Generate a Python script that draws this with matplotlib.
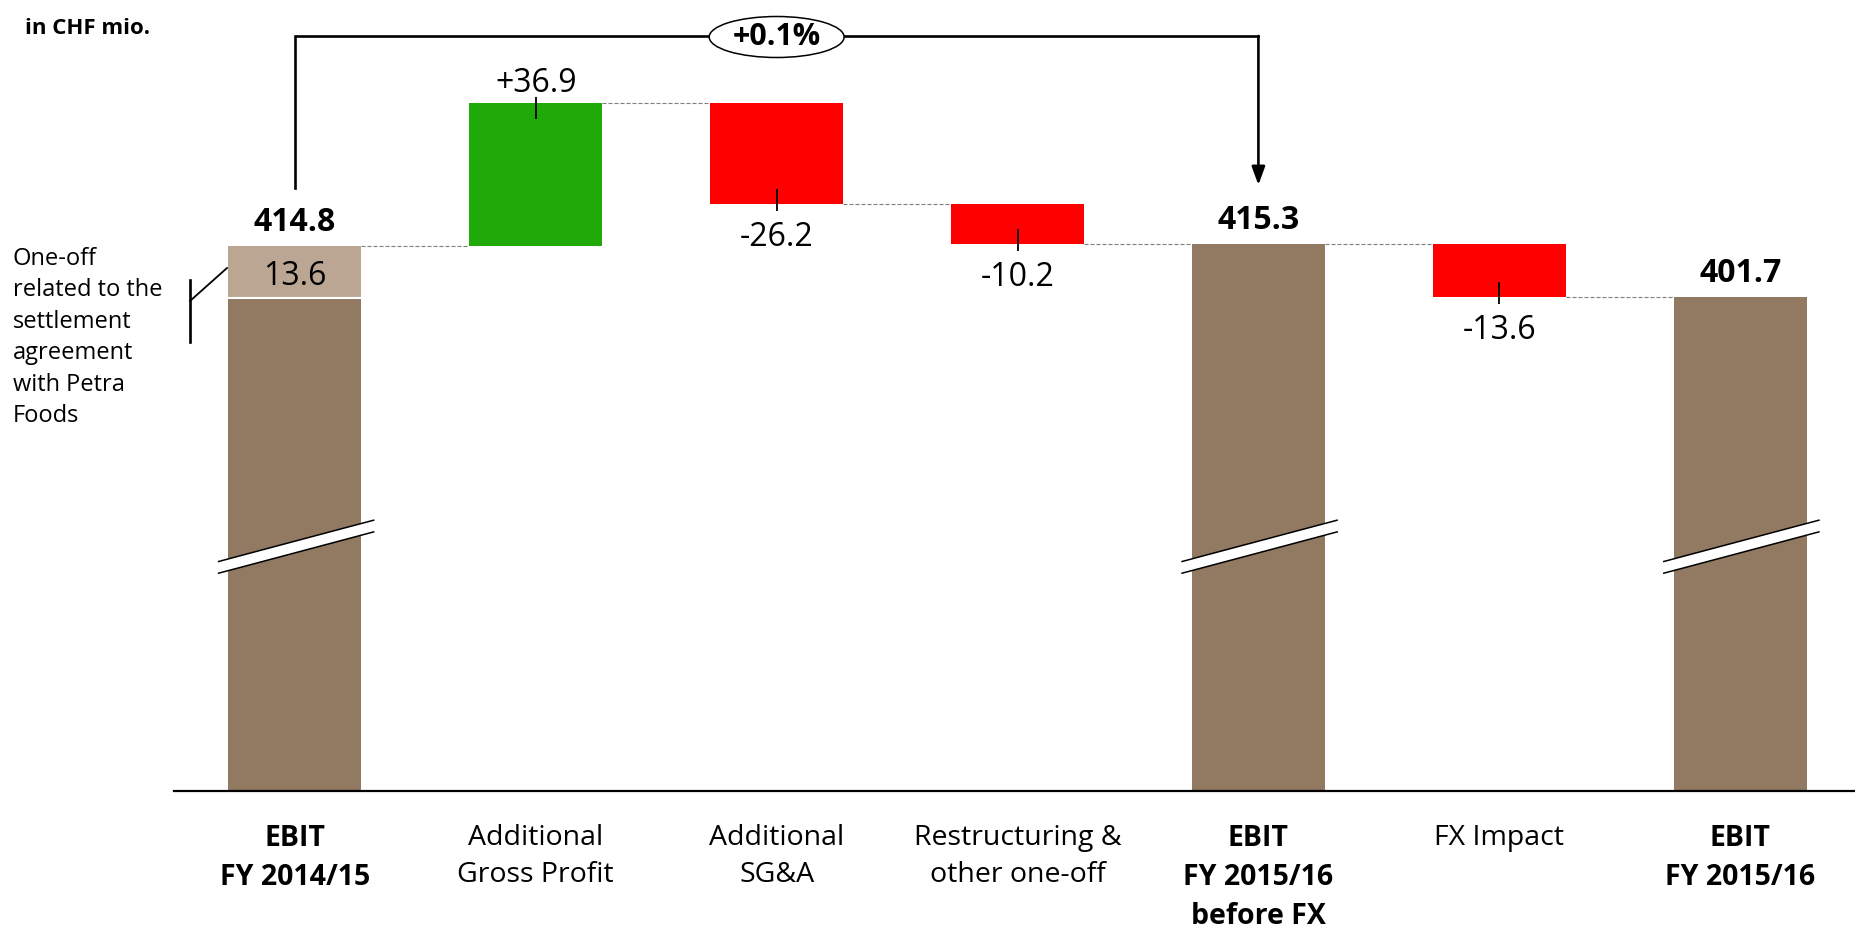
import matplotlib
matplotlib.use("Agg")
import matplotlib.pyplot as plt
from matplotlib import transforms
from matplotlib.patches import Ellipse, Polygon
import numpy as np

# ---- data -------------------------------------------------------------
categories = [
    "EBIT\nFY 2014/15",
    "Additional\nGross Profit",
    "Additional\nSG&A",
    "Restructuring &\nother one-off",
    "EBIT\nFY 2015/16\nbefore FX",
    "FX Impact",
    "EBIT\nFY 2015/16",
]
kinds = ["total", "delta", "delta", "delta", "total", "delta", "total"]
values = [414.8, 36.9, -26.2, -10.2, 415.3, -13.6, 401.7]
value_labels = ["414.8", "+36.9", "-26.2", "-10.2", "415.3", "-13.6", "401.7"]
one_off_value = 13.6
one_off_label = "13.6"
one_off_note = "One-off\nrelated to the\nsettlement\nagreement\nwith Petra\nFoods"
growth_label = "+0.1%"
unit_label = "in CHF mio."

# ---- style ------------------------------------------------------------
BROWN = "#917962"
LIGHT = "#BBA694"
GREEN = "#1FAA0A"
RED = "#FF0000"
GREY = "#7F7F7F"

plt.rcParams["font.family"] = ["Open Sans", "DejaVu Sans"]

W, H, DPI = 1856, 930, 100
fig = plt.figure(figsize=(W / DPI, H / DPI), dpi=DPI)
fig.patch.set_facecolor("white")

# axes: left edge / baseline in pixels
AX_L, AX_B = 174, 791
ax = fig.add_axes([AX_L / W, 1 - AX_B / H, 1 - AX_L / W, AX_B / H])
Y_MIN, Y_MAX = 274.3, 478.2
ax.set_ylim(Y_MIN, Y_MAX)
ax.set_xlim(-0.502, 6.481)
PPU = AX_B / (Y_MAX - Y_MIN)          # pixels per value unit


def dy(px):
    return px / PPU


def ypx(py):
    """Value level at a pixel row measured from the top of the figure."""
    return Y_MAX - py / PPU


# pixel transform (origin top-left) for free-standing decorations
px_tr = transforms.Affine2D().scale(1 / W, -1 / H).translate(0, 1) + fig.transFigure

for s in ["top", "right", "left"]:
    ax.spines[s].set_visible(False)
ax.spines["bottom"].set_linewidth(1.6)
ax.spines["bottom"].set_color("black")
ax.set_xticks([])
ax.set_yticks([])

# ---- waterfall geometry ----------------------------------------------
x = np.arange(len(values))
bottoms, tops, ends, colors = [], [], [], []
level = 0.0
for kind, v in zip(kinds, values):
    if kind == "total":
        bottoms.append(Y_MIN)
        tops.append(v)
        level = v
        colors.append(BROWN)
    else:
        start = level
        level = level + v
        bottoms.append(min(start, level))
        tops.append(max(start, level))
        colors.append(GREEN if v > 0 else RED)
    ends.append(level)

bottoms = np.array(bottoms)
tops = np.array(tops)
BW = 0.552

ax.bar(x, tops - bottoms, bottom=bottoms, width=BW, color=colors,
       linewidth=0, zorder=2)

# one-off part of the first total
one_off_base = values[0] - one_off_value
ax.bar(x[0], one_off_value, bottom=one_off_base, width=BW, color=LIGHT,
       linewidth=0, zorder=2)
ax.plot([x[0] - BW / 2, x[0] + BW / 2], [one_off_base + dy(1)] * 2,
        color="white", lw=1.5, zorder=3, solid_capstyle="butt")
ax.annotate(one_off_label, (x[0], one_off_base + one_off_value / 2),
            xytext=(0, -9), textcoords="offset points",
            ha="center", va="baseline", fontsize=23, color="black", zorder=4)

# dashed connectors
for i in range(len(values) - 1):
    ax.plot([x[i] + BW / 2, x[i + 1] - BW / 2], [ends[i]] * 2,
            color=GREY, lw=0.8, ls=(0, (3.6, 1.8)), zorder=1)

# value labels and leader ticks
for i, (kind, v, lab) in enumerate(zip(kinds, values, value_labels)):
    if kind == "total":
        ax.annotate(lab, (x[i], tops[i]), xytext=(0, 10.8),
                    textcoords="offset points", ha="center", va="baseline",
                    fontsize=23, fontweight="bold", color="black")
    elif v > 0:
        ax.annotate(lab, (x[i], tops[i]), xytext=(0, 7.9),
                    textcoords="offset points", ha="center", va="baseline",
                    fontsize=23, color="black")
        ax.plot([x[i], x[i]], [tops[i] + dy(6), tops[i] - dy(16)],
                color="black", lw=1.3, zorder=4, solid_capstyle="butt")
    else:
        ax.annotate(lab, (x[i], bottoms[i]), xytext=(0, -30.2),
                    textcoords="offset points", ha="center", va="baseline",
                    fontsize=23, color="black")
        ax.plot([x[i], x[i]], [bottoms[i] + dy(15), bottoms[i] - dy(7)],
                color="black", lw=1.3, zorder=4, solid_capstyle="butt")

# axis-break marks on the total bars
brk_left, brk_right = ypx(561.7), ypx(520.0)
band = dy(11.7)
for i, kind in enumerate(kinds):
    if kind != "total":
        continue
    xl, xr = x[i] - 0.32, x[i] + 0.33
    poly = Polygon([(xl, brk_left), (xr, brk_right),
                    (xr, brk_right - band), (xl, brk_left - band)],
                   closed=True, facecolor="white", edgecolor="none", zorder=5)
    ax.add_patch(poly)
    for off in (0, band):
        ax.plot([xl, xr], [brk_left - off, brk_right - off], color="black",
                lw=1.1, zorder=6, solid_capstyle="butt")

# growth bracket from first EBIT to EBIT before FX
y_top = ypx(36)
ax.plot([x[0], x[0], x[4]], [ypx(188), y_top, y_top], color="black",
        lw=1.9, clip_on=False, zorder=6, solid_joinstyle="miter")
ax.annotate("", xy=(x[4], ypx(185)), xytext=(x[4], y_top),
            arrowprops=dict(arrowstyle="-|>,head_length=0.55,head_width=0.2",
                            color="black", lw=1.9, mutation_scale=20,
                            shrinkA=0, shrinkB=0),
            annotation_clip=False, zorder=6)
ax.add_patch(Ellipse((x[2], ypx(37)), width=135 / 241, height=dy(41),
                     facecolor="white", edgecolor="black", lw=1.1,
                     clip_on=False, zorder=7))
ax.text(x[2], ypx(37), growth_label, ha="center", va="center",
        fontsize=22, fontweight="bold", color="black", zorder=8)

# category labels below the baseline
lab_tr = transforms.blended_transform_factory(ax.transData, px_tr)
for i, (cat, kind) in enumerate(zip(categories, kinds)):
    ax.text(x[i], 824, cat, transform=lab_tr, ha="center", va="top",
            fontsize=20.5, linespacing=1.45,
            fontweight="bold" if kind == "total" else "normal", color="black")

# unit note and one-off note
fig.text(25, 34, unit_label, transform=px_tr, ha="left", va="baseline",
         fontsize=16, fontweight="bold", color="black")
fig.text(13, 247, one_off_note, transform=px_tr, ha="left", va="top",
         fontsize=17, linespacing=1.41, color="black")
fig.add_artist(plt.Line2D([190, 190], [280, 342], transform=px_tr,
                          color="black", lw=1.9))
fig.add_artist(plt.Line2D([190, 227], [301, 268], transform=px_tr,
                          color="black", lw=1.3))

fig.savefig("out.png", dpi=DPI, facecolor="white")
